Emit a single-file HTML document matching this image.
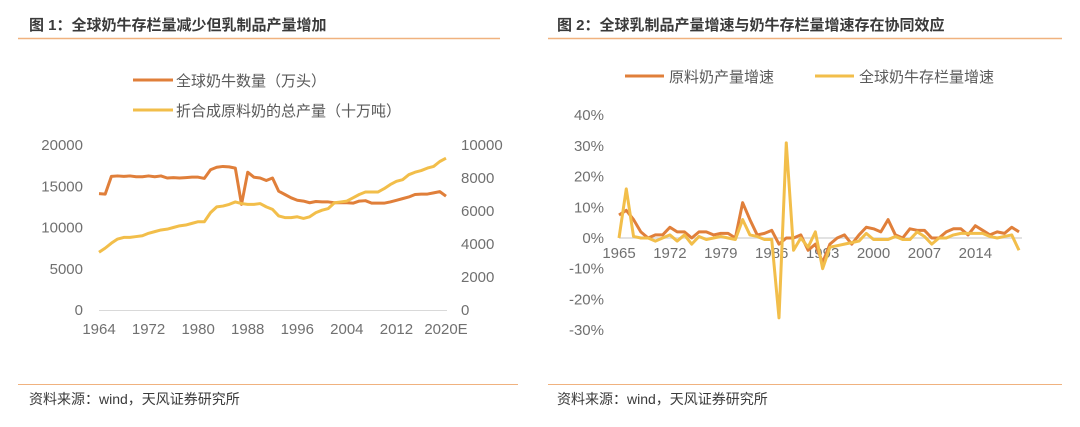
<!DOCTYPE html>
<html><head><meta charset="utf-8"><style>
body{margin:0;width:1080px;height:422px;background:#fff;overflow:hidden;font-family:"Liberation Sans","Noto Sans CJK SC",sans-serif}
svg text{font-family:"Liberation Sans","Noto Sans CJK SC",sans-serif}
</style></head><body>
<svg id="c" width="1080" height="422">
<g>
<text x="29" y="30" font-size="15" font-weight="bold" fill="#3a3a3a">图 1：全球奶牛存栏量减少但乳制品产量增加</text>
<line x1="18" y1="38.5" x2="500" y2="38.5" stroke="#F0B27F" stroke-width="1.5"/>
</g>
<g>
<text x="557" y="30" font-size="15" font-weight="bold" fill="#3a3a3a">图 2：全球乳制品产量增速与奶牛存栏量增速存在协同效应</text>
<line x1="548" y1="38.5" x2="1062" y2="38.5" stroke="#F0B27F" stroke-width="1.5"/>
</g>
<g>
<line x1="133" y1="80" x2="173" y2="80" stroke="#E07F3A" stroke-width="3"/>
<text x="176" y="86" font-size="15" fill="#595959">全球奶牛数量（万头）</text>
<line x1="133" y1="110" x2="173" y2="110" stroke="#F2BE4A" stroke-width="3"/>
<text x="176" y="116" font-size="15" fill="#595959">折合成原料奶的总产量（十万吨）</text>
</g>
<g>
<line x1="625" y1="76" x2="664" y2="76" stroke="#E07F3A" stroke-width="3"/>
<text x="669" y="82" font-size="15" fill="#595959">原料奶产量增速</text>
<line x1="815" y1="76" x2="854" y2="76" stroke="#F2BE4A" stroke-width="3"/>
<text x="859" y="82" font-size="15" fill="#595959">全球奶牛存栏量增速</text>
</g>
<line x1="18" y1="384.5" x2="518" y2="384.5" stroke="#F0B27F" stroke-width="1"/>
<line x1="548" y1="384.5" x2="1062" y2="384.5" stroke="#F0B27F" stroke-width="1"/>
<text x="29" y="404" font-size="14" fill="#3a3a3a">资料来源：wind，天风证券研究所</text>
<text x="557" y="404" font-size="14" fill="#3a3a3a">资料来源：wind，天风证券研究所</text>
<g id="left"></g>
<g id="right"></g>
</svg>
<script>
const years1 = [];
for (let y = 1964; y <= 2020; y++) years1.push(y);
const xLabels1 = ["1964","1972","1980","1988","1996","2004","2012","2020E"];
const leftTicks = [0,5000,10000,15000,20000];
const rightTicks = [0,2000,4000,6000,8000,10000];
const cattle = [14100,14050,16200,16250,16200,16250,16150,16150,16250,16150,16250,16000,16050,16000,16050,16100,16100,15950,17000,17300,17400,17350,17200,12800,16700,16100,16000,15700,16000,14400,14000,13600,13300,13200,13000,13150,13100,13100,13000,13000,13000,12950,13200,13250,12950,12950,12950,13100,13300,13500,13700,14000,14050,14050,14200,14350,13800];
const milk = [3500,3750,4050,4300,4400,4400,4450,4500,4650,4750,4850,4900,5000,5100,5150,5250,5350,5350,5900,6250,6300,6400,6550,6450,6400,6400,6450,6250,6100,5700,5600,5600,5650,5550,5650,5900,6050,6150,6500,6550,6600,6800,7000,7150,7150,7150,7350,7600,7800,7900,8200,8350,8450,8600,8700,9000,9200];

const years2 = [];
for (let y = 1965; y <= 2020; y++) years2.push(y);
const xLabels2 = ["1965","1972","1979","1986","1993","2000","2007","2014"];
const pctTicks = [-30,-20,-10,0,10,20,30,40];
const milkGrowth = [7.5,9,6,2,0,1,1,3.5,2,2,0,2,2,1,1.5,1.5,0,11.5,6,1,1.5,2.5,-2,0,0,1,-4,-2,-8,-2,0,1,-2,1,3.5,3,2,6,1,0,3,2.5,2.5,0,0,2,3,3,1,4,2.5,1,2,1.5,3.5,2];
const cattleGrowth = [0,16,0.5,0,0,-1,0,1,-1,1,-2,0.5,-0.5,0,0.5,0,-0.5,6,1,0.5,-0.5,-0.5,-26,31,-4,0,-3,2,-10,-3,-2.5,-2,-1.5,-1,1.5,-0.5,-0.5,-0.5,0.5,-0.5,-0.5,2,0.5,-2,0,0,1,1.5,1.5,1.5,1.5,0.5,0,0.5,1,-4];

const NS = "http://www.w3.org/2000/svg";
function mk(parent, tag, attrs){const e=document.createElementNS(NS,tag);for(const k in attrs)e.setAttribute(k,attrs[k]);parent.appendChild(e);return e;}

// Left chart
const L = document.getElementById('left');
const lx = y => 99 + (y - 1964) * (446 - 99) / 56;
const ly = v => 310 - v * 165 / 20000;
const ry = v => 310 - v * 165 / 10000;
let ax = mk(L,'line',{x1:99,y1:310.5,x2:447,y2:310.5,stroke:'#d9d9d9','stroke-width':1});


leftTicks.forEach(t=>{const e=mk(L,'text',{x:83,y:ly(t)+5,'font-size':15,fill:'#707070','text-anchor':'end'});e.textContent=t;

});
rightTicks.forEach(t=>{const e=mk(L,'text',{x:461,y:ry(t)+5,'font-size':15,fill:'#707070'});e.textContent=t;

});
xLabels1.forEach((t,i)=>{const e=mk(L,'text',{x:lx(1964+i*8),y:334,'font-size':15,fill:'#707070','text-anchor':'middle'});e.textContent=t;

});
let p1=mk(L,'polyline',{points:cattle.map((v,i)=>lx(years1[i])+','+ly(v)).join(' '),fill:'none',stroke:'#E07F3A','stroke-width':3,'stroke-linejoin':'round'});


let p2=mk(L,'polyline',{points:milk.map((v,i)=>lx(years1[i])+','+ry(v)).join(' '),fill:'none',stroke:'#F2BE4A','stroke-width':3,'stroke-linejoin':'round'});



// Right chart
const R = document.getElementById('right');
const rx = y => 619 + (y - 1965) * (1019 - 619) / 55;
const py = v => 238 - v * 3.07;
let ax2 = mk(R,'line',{x1:619,y1:238,x2:1022,y2:238,stroke:'#d9d9d9','stroke-width':1.5});


pctTicks.forEach(t=>{const e=mk(R,'text',{x:604,y:py(t)+5,'font-size':15,fill:'#707070','text-anchor':'end'});e.textContent=t+'%';

});
xLabels2.forEach((t,i)=>{const e=mk(R,'text',{x:rx(1965+i*7),y:258,'font-size':15,fill:'#707070','text-anchor':'middle'});e.textContent=t;

});
let p3=mk(R,'polyline',{points:milkGrowth.map((v,i)=>rx(years2[i])+','+py(v)).join(' '),fill:'none',stroke:'#E07F3A','stroke-width':3,'stroke-linejoin':'round'});


let p4=mk(R,'polyline',{points:cattleGrowth.map((v,i)=>rx(years2[i])+','+py(v)).join(' '),fill:'none',stroke:'#F2BE4A','stroke-width':3,'stroke-linejoin':'round'});


</script>
</body></html>
